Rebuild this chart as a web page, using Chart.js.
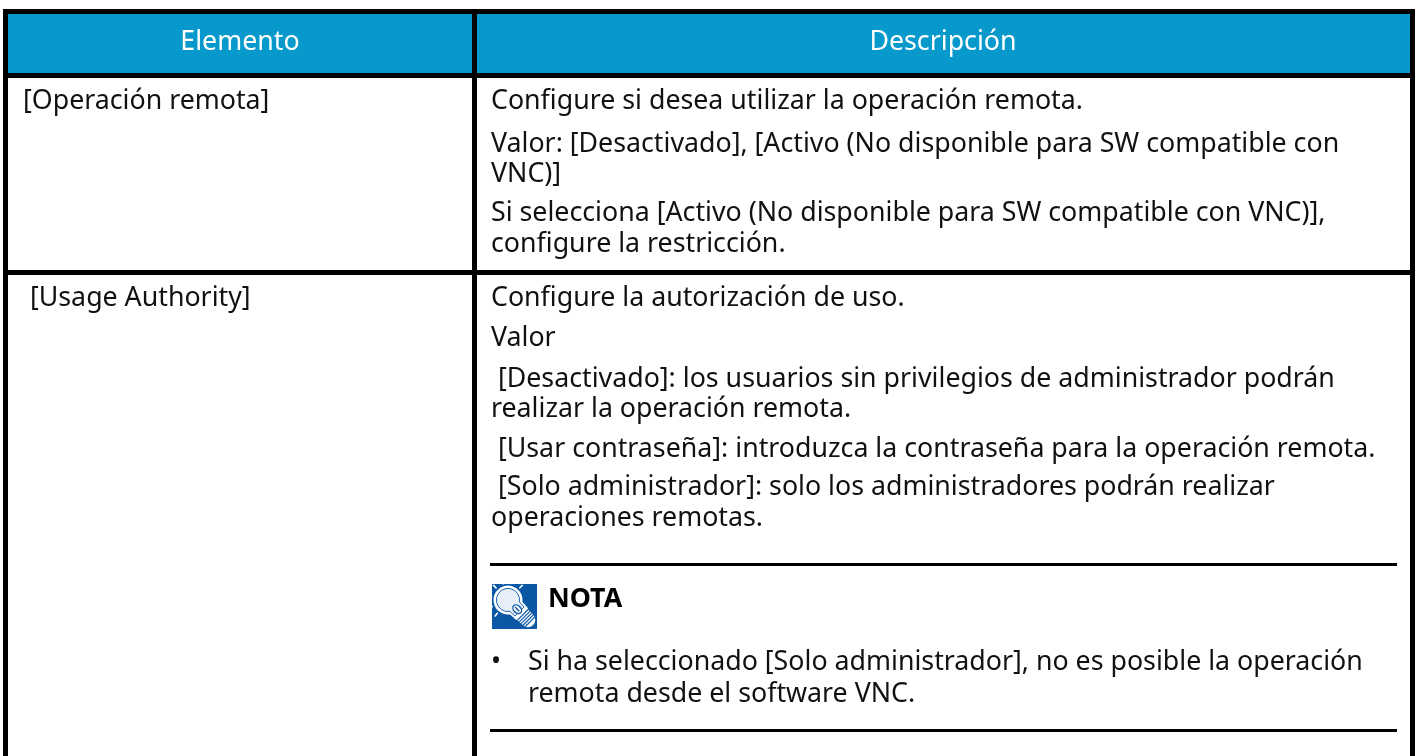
<!DOCTYPE html>
<html><head><meta charset="utf-8">
<style>html,body{margin:0;padding:0;background:#fff}canvas{display:block}</style>
<script src="https://cdn.jsdelivr.net/npm/chart.js@4"></script>
</head><body>
<canvas id="c" width="1417" height="756"></canvas>
<script>
const headers = ["Elemento", "Descripción"];
const itemLabels = ["[Operación remota]", " [Usage Authority]"];
const remoteLines = [
 "Configure si desea utilizar la operación remota.",
 "Valor: [Desactivado], [Activo (No disponible para SW compatible con",
 "VNC)]",
 "Si selecciona [Activo (No disponible para SW compatible con VNC)],",
 "configure la restricción."
];
const usageLines = [
 "Configure la autorización de uso.",
 "Valor",
 " [Desactivado]: los usuarios sin privilegios de administrador podrán",
 "realizar la operación remota.",
 " [Usar contraseña]: introduzca la contraseña para la operación remota.",
 " [Solo administrador]: solo los administradores podrán realizar",
 "operaciones remotas."
];
const noteTitle = "NOTA";
const noteLines = [
 "Si ha seleccionado [Solo administrador], no es posible la operación",
 "remota desde el software VNC."
];

const FONT = '"Noto Sans"';
const SIZE = 26.75;
const remoteY = [109,152,182,221,252];
const usageY = [306,346,387,417,457,495,526];

function drawBulb(g){
 const blue='#0a57a6', pale='#e6eef7';
 g.fillStyle=blue; g.fillRect(492,584,45,45);
 // rays
 g.strokeStyle='#fff'; g.lineWidth=1.6; g.lineCap='round';
 const cx=508,cy=600;
 [-2.9,-2.35,-1.85,-1.35,-0.8,2.75,2.25,3.25].forEach(a=>{
  g.beginPath();
  g.moveTo(cx+17*Math.cos(a),cy+17*Math.sin(a));
  g.lineTo(cx+20.5*Math.cos(a),cy+20.5*Math.sin(a));
  g.stroke();
 });
 g.lineCap='butt';
 g.save();
 g.translate(cx,cy); g.rotate(Math.PI/4);
 // glass plus neck outline (bulb axis runs along +x)
 const glass=()=>{
  g.beginPath();
  g.arc(0,0,13.5,0.62,Math.PI*2-0.62);
  g.lineTo(19,-7.5); g.lineTo(19,7.5);
  g.closePath();
 };
 g.fillStyle='#fff'; glass(); g.fill();
 g.strokeStyle='#fff'; g.lineWidth=2; glass(); g.stroke();
 g.save(); g.scale(0.86,0.86); g.strokeStyle=blue; g.lineWidth=1; glass(); g.fillStyle=pale; g.fill(); g.stroke(); g.restore();
 // filament
 g.strokeStyle=blue; g.lineWidth=1.4; g.fillStyle='#fff';
 g.beginPath(); g.ellipse(13,0,5,3.6,0,0,Math.PI*2); g.fill(); g.stroke();
 g.beginPath(); g.moveTo(10,0); g.lineTo(16,0); g.stroke();
 // screw base
 g.fillStyle='#fff'; g.fillRect(19,-7.5,9,15);
 g.beginPath(); g.arc(28,0,7.5,-Math.PI/2,Math.PI/2); g.fill();
 g.strokeStyle=blue; g.lineWidth=1.2;
 [21,23.5,26,28.5,31].forEach(x=>{ g.beginPath(); g.moveTo(x,-7.5); g.lineTo(x,7.5); g.stroke(); });
 g.restore();
 // clip base overflow to the square
 g.fillStyle='#fff'; g.fillRect(537,584,3,45); g.fillRect(492,629,48,3);
}

const tablePlugin = {
 id:'table',
 afterDraw(chart){
  const g = chart.ctx;
  g.save();
  g.fillStyle='#fff'; g.fillRect(0,0,1417,756);
  g.fillStyle='#0899cc'; g.fillRect(8,14,1402,59);
  g.fillStyle='#000';
  g.fillRect(3,9,1411,5);
  g.fillRect(3,73,1412,5);
  g.fillRect(3,270,1412,5);
  g.fillRect(3,9,5,747);
  g.fillRect(472,9,5,747);
  g.fillRect(1410,9,5,747);
  g.fillRect(490,563,907,3);
  g.fillRect(490,729,907,3);
  g.textBaseline='alphabetic';
  g.font=`${SIZE}px ${FONT}`;
  g.fillStyle='#fff'; g.textAlign='center';
  g.fillText(headers[0],240,50);
  g.fillText(headers[1],943,50);
  g.textAlign='left'; g.fillStyle='#111';
  g.fillText(itemLabels[0],23,109);
  g.fillText(itemLabels[1],23,306);
  remoteLines.forEach((t,i)=>g.fillText(t,491,remoteY[i]));
  usageLines.forEach((t,i)=>g.fillText(t,491,usageY[i]));
  g.fillText(noteLines[0],528,670);
  g.fillText(noteLines[1],528,702);
  g.fillText("•",491,670);
  g.font=`bold ${SIZE}px ${FONT}`;
  g.fillStyle='#000';
  g.fillText(noteTitle,548,607);
  drawBulb(g);
  g.restore();
 }
};
new Chart(document.getElementById('c'),{
 type:'bar',
 data:{labels:[],datasets:[]},
 options:{responsive:false,animation:false,plugins:{legend:{display:false},tooltip:{enabled:false}},scales:{x:{display:false},y:{display:false}}},
 plugins:[tablePlugin]
});
</script>
</body></html>
